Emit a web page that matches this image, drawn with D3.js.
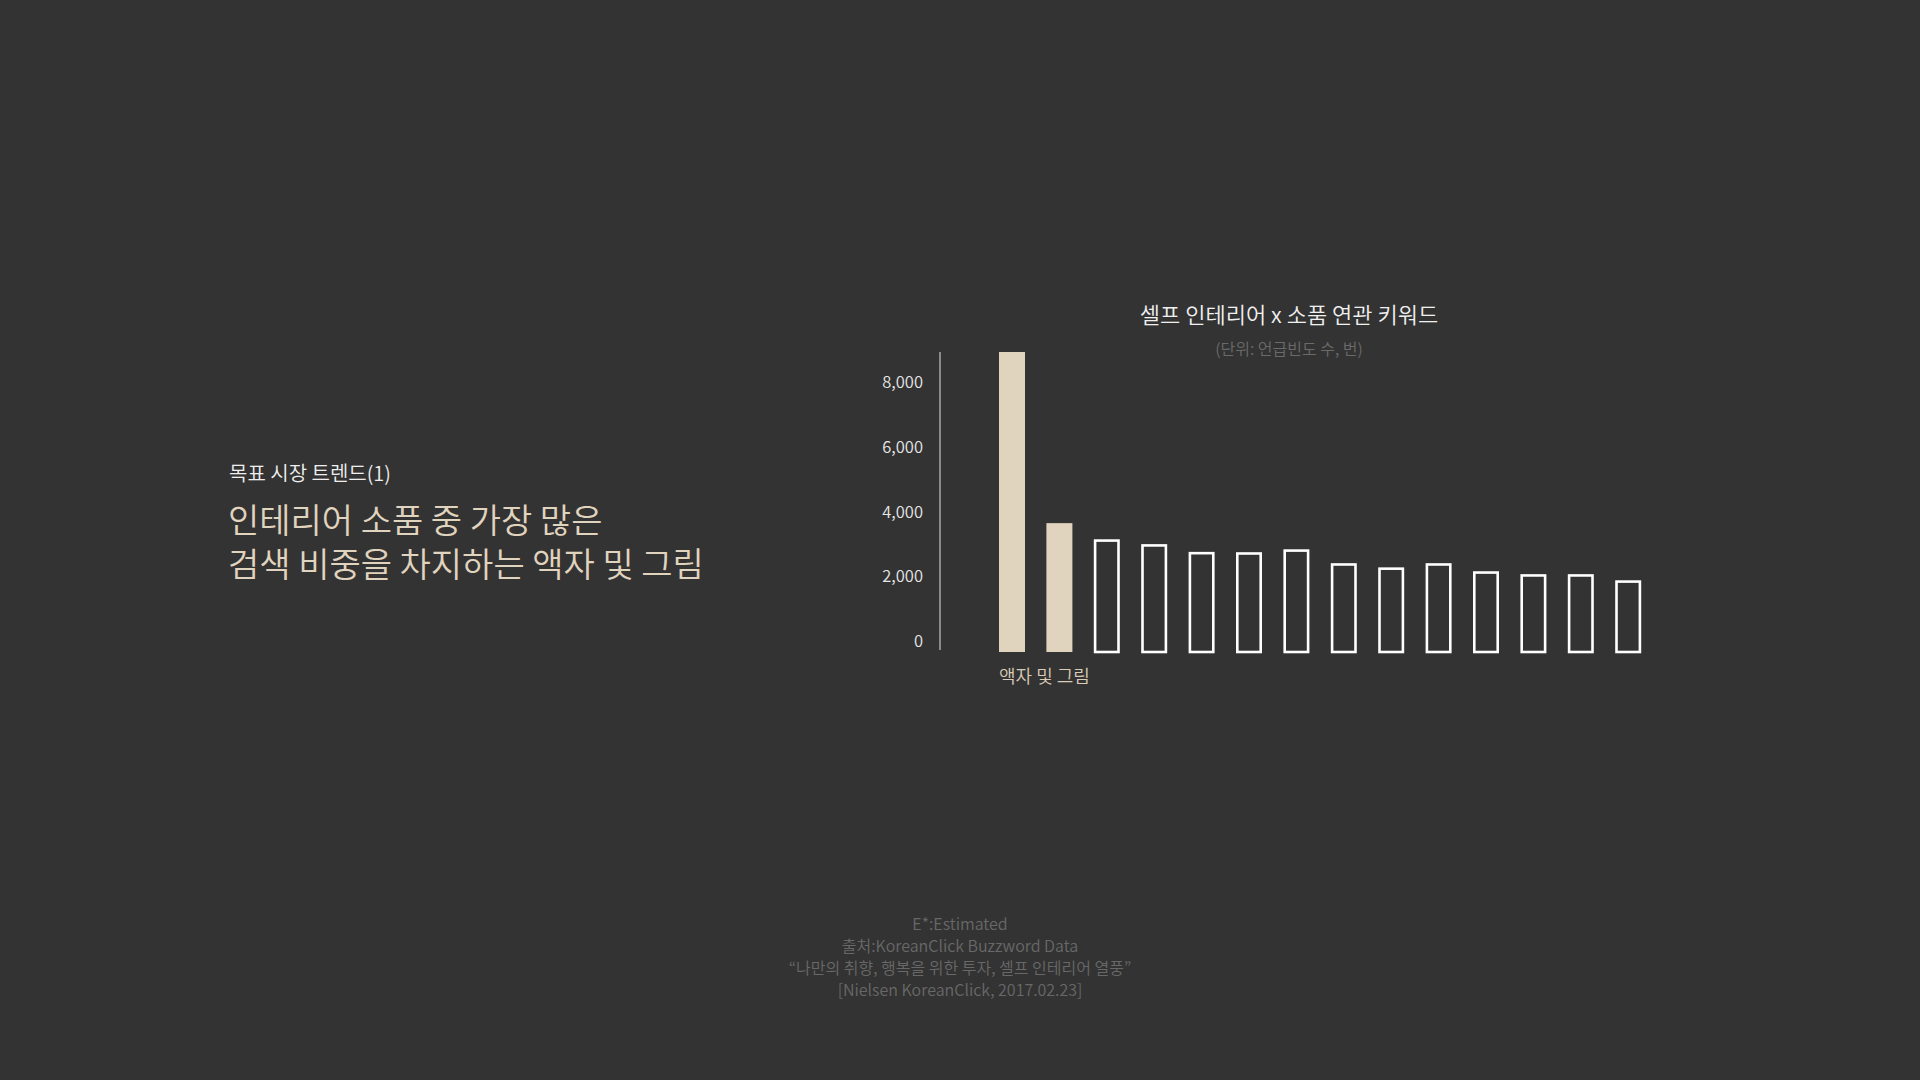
<!DOCTYPE html>
<html><head><meta charset="utf-8">
<script src="https://cdn.jsdelivr.net/npm/d3@7"></script>
<style>
html,body{margin:0;padding:0;background:#333333;}
svg{display:block;}
text{font-family:"Noto Sans CJK KR","Noto Sans",sans-serif;}
</style></head>
<body>
<script>
// ---- data ----
const categories = ["액자 및 그림","2","3","4","5","6","7","8","9","10","11","12","13","14"];
const shownLabels = ["액자 및 그림"];
const values = [9260, 3960, 3460, 3310, 3070, 3060, 3150, 2720, 2590, 2720, 2470, 2380, 2380, 2190];
const highlighted = [true, true, false, false, false, false, false, false, false, false, false, false, false, false];
const yTicks = [0, 2000, 4000, 6000, 8000];
const chartTitle = "셀프 인테리어 x 소품 연관 키워드";
const chartUnit = "(단위: 언급빈도 수, 번)";
const kicker = "목표 시장 트렌드(1)";
const headline = ["인테리어 소품 중 가장 많은", "검색 비중을 차지하는 액자 및 그림"];
const footer = ["E*:Estimated", "출처:KoreanClick Buzzword Data", "“나만의 취향, 행복을 위한 투자, 셀프 인테리어 열풍”", "[Nielsen KoreanClick, 2017.02.23]"];

const W = 1920, H = 1080;
const svg = d3.select("body").append("svg").attr("width", W).attr("height", H);
svg.append("rect").attr("width", W).attr("height", H).attr("fill", "#333333");

// scales
const step = 47.4, bw = 26;
const x = d3.scaleBand().domain(categories.map((d,i)=>i))
  .range([999, 999 + step*(categories.length - (1 - bw/step))])
  .paddingInner(1 - bw/step).paddingOuter(0).align(0);
const y = d3.scaleLinear().domain([0, 9260]).range([651, 352]);

// axis line
svg.append("line").attr("x1", 940).attr("x2", 940).attr("y1", y(9260)).attr("y2", 650)
  .attr("stroke", "#8a8a8a").attr("stroke-width", 2);

// y tick labels via d3 axis
const yAxis = d3.axisLeft(y).tickValues(yTicks).tickFormat(d3.format(",")).tickSize(0).tickPadding(0);
const gy = svg.append("g").attr("transform", "translate(923,0)").call(yAxis);
gy.select(".domain").remove();
gy.selectAll("text").attr("fill", "#e6e6e6").attr("font-size", 16.5).attr("font-weight", 350)
  .attr("font-family", '"Noto Sans CJK KR","Noto Sans",sans-serif')
  .attr("y", -10);

// bars
const sw = 2.6;
svg.append("g").selectAll("rect").data(values).join("rect")
  .attr("x", (d,i)=> highlighted[i] ? x(i) : x(i) + sw/2)
  .attr("y", (d,i)=> highlighted[i] ? y(d) : y(d) + sw/2)
  .attr("width", (d,i)=> highlighted[i] ? x.bandwidth() : x.bandwidth() - sw)
  .attr("height", (d,i)=> highlighted[i] ? y(0) - y(d) + 1 : y(0) - y(d) - sw/2 + 1)
  .attr("fill", (d,i)=> highlighted[i] ? "#e1d4bf" : "none")
  .attr("stroke", (d,i)=> highlighted[i] ? "none" : "#ffffff")
  .attr("stroke-width", sw);

// category label
svg.append("g").selectAll("text").data(shownLabels).join("text")
  .attr("x", (d,i)=> x(i)).attr("y", 677).attr("dy", "0.35em")
  .attr("fill", "#d9cbb5").attr("font-size", 18).attr("font-weight", 350).text(d=>d);

// title
svg.append("text").attr("x", 1289).attr("y", 315).attr("dy", "0.35em")
  .attr("text-anchor", "middle").attr("fill", "#f0f0f0").attr("font-size", 22).attr("font-weight", 350).text(chartTitle);
svg.append("text").attr("x", 1289).attr("y", 349).attr("dy", "0.35em")
  .attr("text-anchor", "middle").attr("fill", "#6a6a6a").attr("font-size", 16).attr("font-weight", 350).text(chartUnit);

// left text
svg.append("text").attr("x", 229).attr("y", 474).attr("dy", "0.35em")
  .attr("fill", "#efefef").attr("font-size", 20).attr("font-weight", 350).text(kicker);
const head = svg.append("text").attr("fill", "#e1d4bf").attr("font-size", 34).attr("font-weight", 350);
head.selectAll("tspan").data(headline).join("tspan")
  .attr("x", 228).attr("y", (d,i)=> 521 + i*44).attr("dy", "0.35em").text(d=>d);

// footer
svg.append("g").selectAll("text").data(footer).join("text")
  .attr("x", 960).attr("y", (d,i)=> 924 + i*22.2).attr("dy", "0.35em")
  .attr("text-anchor", "middle").attr("fill", "#686868").attr("font-size", 16).attr("font-weight", 350).text(d=>d);
</script>
</body></html>
